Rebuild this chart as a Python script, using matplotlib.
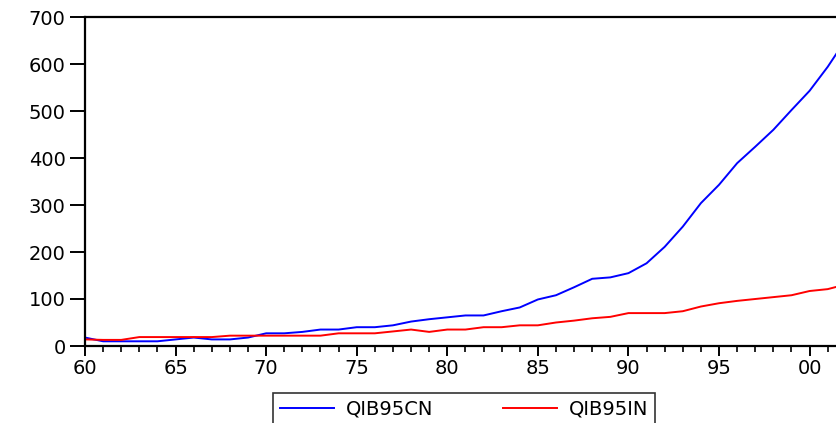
import matplotlib
matplotlib.use("Agg")
import matplotlib.pyplot as plt
from matplotlib.ticker import MultipleLocator, FixedLocator

years = list(range(1960, 2003))
qib95cn = [18, 10, 10, 10, 10, 14, 18, 14, 14, 18,
           27, 27, 30, 35, 35, 40, 40, 44, 52, 57,
           61, 65, 65, 74, 82, 99, 108, 125, 143, 146,
           155, 176, 211, 254, 304, 343, 389, 424, 460, 502,
           543, 594, 652]
qib95in = [14, 13, 13, 19, 19, 19, 19, 19, 22, 22,
           22, 22, 22, 22, 27, 27, 27, 31, 35, 30,
           35, 35, 40, 40, 44, 44, 50, 54, 59, 62,
           70, 70, 70, 74, 84, 91, 96, 100, 104, 108,
           117, 121, 131]
xtick_vals = [1960, 1965, 1970, 1975, 1980, 1985, 1990, 1995, 2000]
xtick_labels = ["60", "65", "70", "75", "80", "85", "90", "95", "00"]
ytick_vals = [0, 100, 200, 300, 400, 500, 600, 700]

W, H = 836, 423
fig = plt.figure(figsize=(W / 100, H / 100), dpi=100)
ax = fig.add_axes([85 / W, 1 - 346 / H, 1 - 85 / W + 0.002, (346 - 17) / H])

ax.plot(years, qib95cn, color="#0000ff", lw=1.4, label="QIB95CN")
ax.plot(years, qib95in, color="#ff0000", lw=1.4, label="QIB95IN")

ax.set_xlim(1960, 2001.55)
ax.set_ylim(0, 700)
ax.xaxis.set_major_locator(FixedLocator(xtick_vals))
ax.set_xticks(xtick_vals)
ax.set_xticklabels(xtick_labels)
ax.xaxis.set_minor_locator(MultipleLocator(1))
ax.set_yticks(ytick_vals)

for s in ["left", "bottom", "top"]:
    ax.spines[s].set_linewidth(1.6)
    ax.spines[s].set_color("black")
ax.spines["right"].set_visible(False)

ax.tick_params(axis="both", which="major", direction="out", width=1.4,
               labelsize=14, colors="black")
ax.tick_params(axis="x", which="major", length=7, pad=2)
ax.tick_params(axis="y", which="major", length=11, pad=3)
ax.tick_params(axis="x", which="minor", direction="out", length=4, width=1.2)

leg = fig.legend(loc="upper center", bbox_to_anchor=(464 / W, 1 - 393 / H),
                 ncol=2, frameon=True, fancybox=False, edgecolor="black",
                 fontsize=14, handlelength=2.8, handletextpad=0.6,
                 columnspacing=3.6, borderpad=0.35, borderaxespad=0)
leg.get_frame().set_linewidth(1.2)
for ln in leg.get_lines():
    ln.set_linewidth(1.4)

fig.savefig("out.png", dpi=100)
